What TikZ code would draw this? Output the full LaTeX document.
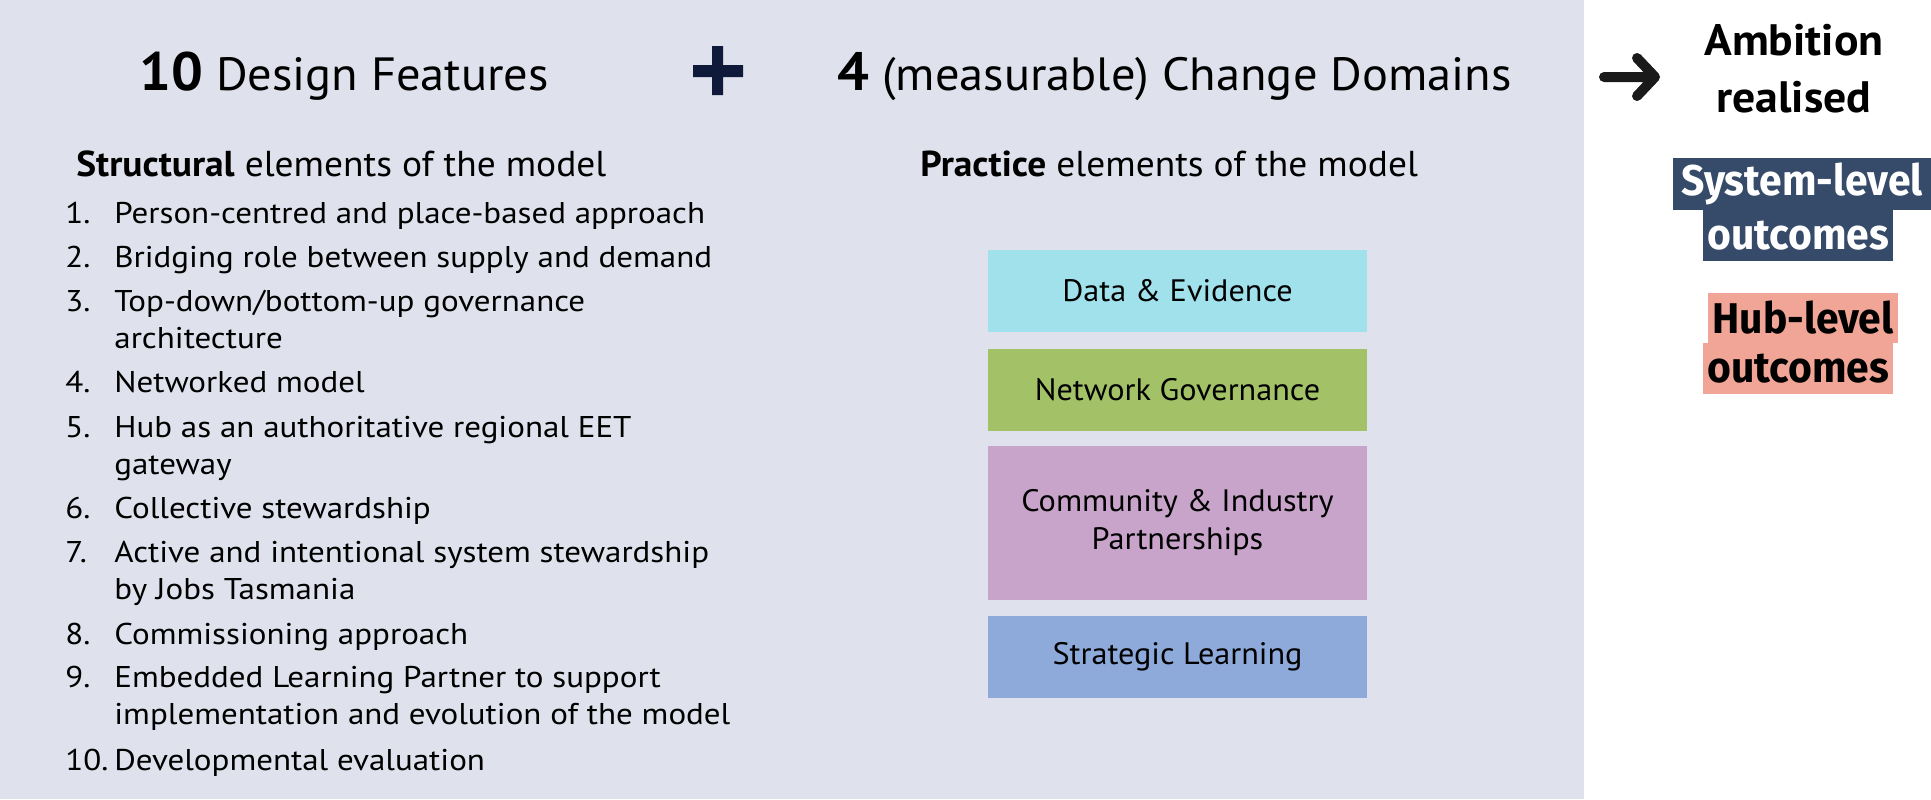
\documentclass[tikz,border=0pt]{standalone}
\usepackage{fontspec}
\setmainfont{PT Sans}[FakeStretch=1.04]
\newfontfamily\listfont{PT Sans}[FakeStretch=1.1]
\newfontfamily\outcomefont{Fira Sans}[FakeStretch=0.95]
\usetikzlibrary{positioning}

\definecolor{panelgrey}{HTML}{DFE2EC}
\definecolor{plusnavy}{HTML}{0F1A3A}
\definecolor{arrowblack}{HTML}{1A1A1A}
\definecolor{sysnavy}{HTML}{364B69}
\definecolor{hubpink}{HTML}{F0A597}
\definecolor{datacyan}{HTML}{A0E1EC}
\definecolor{netgreen}{HTML}{A3C267}
\definecolor{commpurple}{HTML}{C8A4CB}
\definecolor{learnblue}{HTML}{8EAADB}

\newcommand{\bignum}[1]{{\fontsize{27}{34}\selectfont\bfseries #1}}

\tikzset{
  every heading/.style={anchor=base west, inner sep=0pt, font=\fontsize{23.3}{28}\selectfont},
  every subheading/.style={anchor=base west, inner sep=0pt, font=\fontsize{18}{22}\selectfont},
  every number/.style={anchor=base west, inner sep=0pt, font=\listfont\fontsize{15}{18.75}\selectfont},
  every item/.style={anchor=base west, inner sep=0pt, align=left, font=\listfont\fontsize{15}{18.75}\selectfont},
  every domain/.style={inner sep=0pt, minimum width=189.5pt, align=center, font=\fontsize{15.5}{19}\selectfont},
  every outcome/.style={inner sep=0pt, minimum width=95pt, font=\outcomefont\bfseries\fontsize{21.5}{25}\selectfont},
}

\begin{document}
\begin{tikzpicture}[x=0.5pt, y=-0.5pt]
		\useasboundingbox (0,0) rectangle (1931,799);
		\fill[panelgrey] (0,0) rectangle (1584,799);

		% headings
		\node [every heading] (features) at (139,90) {\bignum{10} Design Features};
		\node [every heading] (domains) at (837,90) {\bignum{4} (measurable) Change Domains};
		\node [anchor=base, align=center, inner sep=0pt, font=\bfseries\fontsize{22}{28.5}\selectfont] (ambition) at (1794,112) {Ambition\\realised};

		\fill[plusnavy] (693,65) rectangle (743,77) (712,46) rectangle (723,95);

		\coordinate (arrow-tail) at (1604,77);
		\coordinate (arrow-tip) at (1655,77);
		\draw [arrowblack, line width=5pt, line cap=round, line join=round] (arrow-tail) -- (arrow-tip)
			(arrow-tip) ++(-18,-19) -- (arrow-tip) -- ++(-18,19);

		\node [every subheading] (structural) at (76,176) {\textbf{Structural} elements of the model};
		\node [every subheading] (practice) at (920,176) {\textbf{Practice} elements of the model};

		% design features (\k = extra lines below the first)
		\foreach \y/\k/\n/\t [count=\i] in {
			223/0/1./{Person-centred and place-based approach},
			267/0/2./{Bridging role between supply and demand},
			311/1/3./{Top-down/bottom-up governance\\architecture},
			392/0/4./{Networked model},
			437/1/5./{Hub as an authoritative regional EET\\gateway},
			518/0/6./{Collective stewardship},
			562/1/7./{Active and intentional system stewardship\\by Jobs Tasmania},
			644/0/8./{Commissioning approach},
			687/1/9./{Embedded Learning Partner to support\\implementation and evolution of the model},
			770/0/10./{Developmental evaluation}} {
			\node [every number] (num-\i) at (65,\y) {\n};
			\node [every item] (item-\i) at (114,{\y+37.5*\k}) {\t};
		};

		% change domains
		\foreach \l/\c/\y/\h/\t in {
			data/datacyan/291/41/{Data \& Evidence},
			network/netgreen/389.5/41/{Network Governance},
			community/commpurple/522.5/77/{Community \& Industry\\Partnerships},
			learning/learnblue/657/41/{Strategic Learning}} {
			\node [every domain, fill=\c, minimum height=\h pt] (dom-\l) at (1177.5,\y) {\t};
		};

		% outcomes
		\node [every outcome, fill=sysnavy, text=white, minimum width=129pt, minimum height=26pt] (sys-1) at (1802,184) {System-level};
		\node [every outcome, fill=sysnavy, text=white, minimum height=25.5pt] (sys-2) at (1798,235.5) {outcomes};
		\node [every outcome, fill=hubpink, minimum height=25pt] (hub-1) at (1803,318) {Hub-level};
		\node [every outcome, fill=hubpink, minimum height=25.5pt] (hub-2) at (1798,368.5) {outcomes};
	\end{tikzpicture}
\end{document}
